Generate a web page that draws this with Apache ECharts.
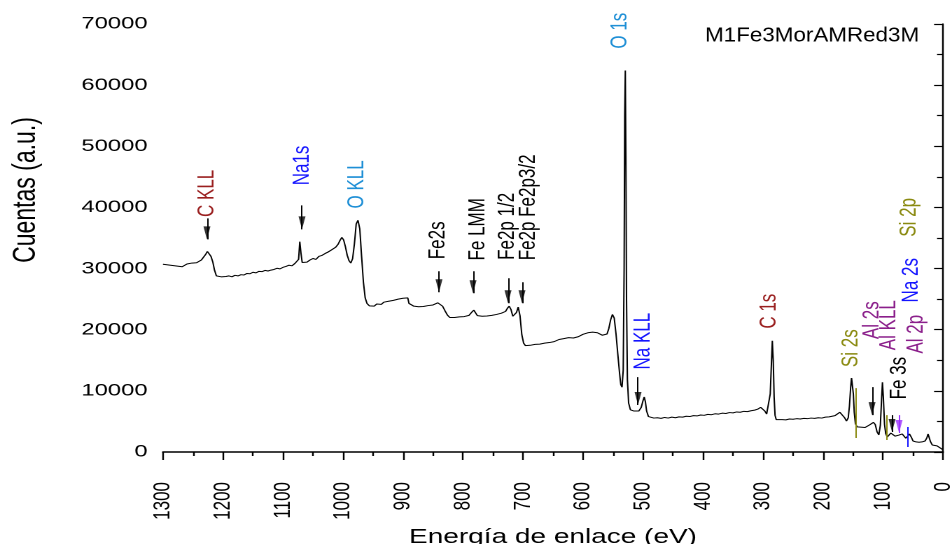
<!DOCTYPE html>
<html><head><meta charset="utf-8">
<script src="https://cdn.jsdelivr.net/npm/echarts@6/dist/echarts.min.js"></script>
<style>
html,body{margin:0;padding:0;background:#fff;overflow:hidden;width:952px;height:544px}
#chart{width:680px;height:544px;transform:scaleX(1.4);transform-origin:0 0}
</style>
</head><body><div id="chart"></div>
<script>
// ---- Data (binding energy in eV, counts) ----
const energy = [1300,1296,1292,1288,1284,1280,1276,1272,1268,1264,1260,1256,1252,1248,1244,1240,1236,1232,1229,1226,1223,1220,1217,1214,1211,1207,1203,1199,1195,1190,1185,1180,1175,1170,1165,1160,1155,1150,1145,1140,1135,1130,1125,1120,1115,1110,1105,1100,1095,1090,1085,1080,1077,1074,1072,1070,1068,1065,1060,1055,1050,1045,1040,1035,1030,1025,1020,1016,1012,1008,1005,1002,999,996,993,990,987,984,981,978,975,972,969,966,963,960,956,952,948,944,940,936,932,928,924,920,916,912,908,904,900,896,892,890,886,882,878,874,870,866,862,858,854,850,846,842,838,834,830,826,822,818,814,810,806,802,798,794,790,786,782,779,776,772,768,764,760,756,752,748,744,740,736,732,729,726,723,720,717,714,711,708,705,702,699,696,692,688,684,680,676,672,668,664,660,656,652,648,644,640,636,632,628,624,620,616,612,608,604,600,596,592,588,584,580,576,572,568,564,560,557,554,551,548,545,542,539,537,535,533,531.5,530.5,529.5,528.5,527.5,526,524,521,518,515,511,507,503,500,498,496,494,491,487,482,476,470,464,458,452,446,440,434,428,422,416,410,404,398,392,386,380,374,368,362,356,350,344,338,332,326,320,314,309,304,300,297,294,291,288,286,284.5,283,281.5,280,278,274,268,262,256,250,244,238,232,226,220,214,208,202,196,190,185,180,176,172,168,164,161,158,156,154,152.5,151,149.5,148,146,143,139,135,130,126,122,119,116,113,110,107,104.5,102.5,101,99.5,97.5,95.5,93,90,87,84,80,77,74,71,68,65,62,59,56,53,50,45,40,35,30,27,25,23,21,18,14,10,6,3,0];
const counts = [30700,30450,30600,30350,30500,30650,30400,30550,30300,30600,30750,30550,30900,31100,30950,31150,31400,31700,32300,32800,32600,32000,31100,29700,28800,28500,28650,28450,28700,28800,28650,28900,28800,29000,28950,29200,29150,29400,29300,29550,29500,29700,29600,29750,29850,30050,29950,30200,30350,30550,30450,30850,30750,31500,34400,32500,31000,31200,31050,31400,31650,31500,32000,32150,32450,32700,33000,33300,33500,34000,34600,35100,34700,33600,32200,31300,30900,31600,34000,37300,37900,36500,32000,27800,25200,24300,23900,24100,23850,24200,24300,24150,24500,24400,24650,24550,24800,24750,25000,24900,25150,25250,25200,24300,24100,23850,24000,23750,23950,23800,24050,23950,24150,24050,24300,24400,24250,23850,23100,22400,22000,21850,22000,21900,22100,21950,22150,22100,22350,22800,23200,23000,22300,22050,22200,22100,22250,22150,22350,22300,22500,22450,22700,22850,23000,23500,23850,23300,22200,21900,22800,23700,22300,19200,17800,17400,17550,17450,17650,17600,17700,17650,17850,17800,17950,17900,18100,18050,18250,18400,18300,18550,18500,18700,18750,18650,18900,18850,19100,19250,19200,19500,19650,19600,19750,19500,19250,19100,18900,19300,20200,21600,22500,21900,19300,16000,12800,11000,10600,13400,30000,55000,62400,48000,25000,11800,8000,6900,6750,6700,6550,6700,7300,8400,9000,8200,6700,5800,5650,5550,5600,5500,5650,5550,5700,5600,5750,5700,5850,5800,5950,5900,6050,6000,6150,6100,6250,6200,6350,6300,6450,6400,6550,6500,6650,6600,6750,6850,7000,7300,7100,6700,6200,6500,9500,14500,18200,15000,9000,6000,5300,5200,5300,5250,5400,5350,5450,5400,5500,5450,5550,5500,5600,5550,5700,5750,5850,5950,6150,6500,6350,5600,5050,5600,7500,10500,12100,12000,9500,6500,4600,4100,3950,4050,4000,4250,4450,4600,4850,4500,3300,2800,4400,8500,11400,9000,4500,3000,2450,2600,3100,2950,2600,2450,2750,2450,2950,2600,2250,2600,2950,2450,1800,1650,1600,1650,1800,2300,2950,2800,1700,1150,1100,1000,800,550,350];

// Axis ranges / ticks
const xMin = 0, xMax = 1300, xStep = 100;
const yMin = 0, yMax = 70000, yStep = 10000;

// Peak annotations (text centre in data coordinates)
const labelNames  = ['C KLL','Na1s','O KLL','Fe2s','Fe LMM','Fe2p 1/2','Fe2p Fe2p3/2','O 1s','Na KLL','C 1s','Si 2s','Al 2s','Al KLL','Fe 3s','Al 2p','Na 2s','Si 2p'];
const labelEnergy = [1226.7,1068.3,976.7,841.7,775,726.7,691.7,538.3,500,290,153.3,118.3,90,73.3,45,53.3,56.7];
const labelCounts = [42300,46870,43770,34620,36420,36910,40010,68910,18130,23030,16980,21560,20740,12080,19270,28090,38380];
const labelGroup  = ['C','Na','O','Fe','Fe','Fe','Fe','O','Na','C','Si','Al','Al','Fe','Al','Na','Si'];

// Arrows (energy, start counts, arrow tip counts)
const arrowEnergy = [1226.7,1068.3,840,783.3,725,701.7,508.3,118.3,85,73.3];
const arrowFrom   = [38210,40340,29560,29560,28410,27760,12250,10610,6040,6040];
const arrowTo     = [34780,36420,26130,25960,24330,24330,7680,6040,3270,3100];
const arrowGroup  = ['Fe','Fe','Fe','Fe','Fe','Fe','Fe','Fe','Fe','AlArrow'];
// Plain marker lines
const tickEnergy  = [145,93.3,60];
const tickFrom    = [10450,6040,4080];
const tickTo      = [2290,1960,820];
const tickGroup   = ['Si','Si','Na'];

const sampleName = 'M1Fe3MorAMRed3M';

// Styles
const groupColor = {C:'#9a1f1f', Na:'#1414ff', O:'#1e8fd6', Fe:'#000000', Si:'#8a8a10', Al:'#8b1f8b', AlArrow:'#9b30ff'};
const FONT = '"Liberation Sans", Arial, sans-serif';

const spectrum = energy.map((e, i) => [e, counts[i]]);

const arrowLines = arrowEnergy.map((e, i) => [
  {coord:[e, arrowFrom[i]], lineStyle:{color:groupColor[arrowGroup[i]]}},
  {coord:[e, arrowTo[i]]}
]);
const plainLines = tickEnergy.map((e, i) => [
  {coord:[e, tickFrom[i]], lineStyle:{color:groupColor[tickGroup[i]]}},
  {coord:[e, tickTo[i]]}
]);
const arrowHeads = arrowEnergy.map((e, i) => ({
  value: [e, arrowTo[i]],
  itemStyle: {color: groupColor[arrowGroup[i]]}
}));

const markPoints = labelNames.map((n, i) => ({
  name: n,
  coord: [labelEnergy[i], labelCounts[i]],
  label: {color: groupColor[labelGroup[i]]}
}));

const chart = echarts.init(document.getElementById('chart'), null, {renderer:'canvas', devicePixelRatio:2});
chart.setOption({
  animation: false,
  backgroundColor: '#fff',
  textStyle: {fontFamily: FONT},
  graphic: [{
    type: 'text', left: 503.6, top: 26, scaleX: 0.8, silent: true,
    style: {text: sampleName, fontSize: 20, fill: '#000', fontFamily: FONT}
  }],
  grid: {left: 116.4, right: 6.4, top: 24, bottom: 92, containLabel: false, outerBoundsMode: 'none'},
  xAxis: {
    type: 'value', inverse: true, min: xMin, max: xMax, interval: xStep,
    name: 'Energía de enlace (eV)', nameLocation: 'middle', nameGap: 64,
    nameTextStyle: {fontSize: 20, color: '#000', fontFamily: FONT},
    axisLine: {show: true, onZero: false, lineStyle: {color: '#000', width: 1.5}},
    axisTick: {show: true, inside: false, length: 8, lineStyle: {color: '#000', width: 1.2}},
    minorTick: {show: true, splitNumber: 2, length: 4, lineStyle: {color: '#000', width: 1.2}},
    axisLabel: {rotate: 90, margin: 30, fontSize: 17, color: '#000', fontFamily: FONT, formatter: v => String(v)},
    splitLine: {show: false}, minorSplitLine: {show: false}
  },
  yAxis: {
    type: 'value', min: yMin, max: yMax, interval: yStep,
    name: 'Cuentas (a.u.)', nameLocation: 'middle', nameGap: 86,
    nameTextStyle: {fontSize: 23, color: '#000', fontFamily: FONT, padding: [0, 0, 0, 96]},
    axisLine: {show: true, lineStyle: {color: '#000', width: 1.2}},
    axisTick: {show: true, inside: false, length: 6.4, lineStyle: {color: '#000', width: 1.2}},
    minorTick: {show: true, splitNumber: 2, length: 4.3, lineStyle: {color: '#000', width: 1.2}},
    axisLabel: {margin: 11, fontSize: 17, color: '#000', fontFamily: FONT, formatter: v => String(v)},
    splitLine: {show: false}, minorSplitLine: {show: false}
  },
  series: [{
    type: 'line', data: spectrum, showSymbol: false, symbol: 'none', smooth: false,
    lineStyle: {color: '#000', width: 1}, silent: true, z: 3,
    markLine: {
      silent: true, animation: false, precision: 4,
      symbol: ['none', 'none'],
      lineStyle: {width: 1, type: 'solid', color: '#000'},
      label: {show: false}, emphasis: {disabled: true},
      data: arrowLines
    },
    markPoint: {
      silent: true, animation: false,
      symbol: 'circle', symbolSize: 1, itemStyle: {color: 'rgba(0,0,0,0)'},
      label: {show: true, position: 'inside', rotate: 90, fontSize: 17, fontFamily: FONT, formatter: p => p.name},
      data: markPoints
    }
  }, {
    type: 'line', data: [], silent: true, z: 2,
    markLine: {
      silent: true, animation: false, precision: 4,
      symbol: ['none', 'none'],
      lineStyle: {width: 1, type: 'solid'},
      label: {show: false}, emphasis: {disabled: true},
      data: plainLines
    }
  }, {
    type: 'scatter', data: arrowHeads, silent: true, z: 4,
    symbol: 'triangle', symbolSize: [5, 13], symbolRotate: 180, symbolOffset: [0, -6.5]
  }]
});
</script></body></html>
